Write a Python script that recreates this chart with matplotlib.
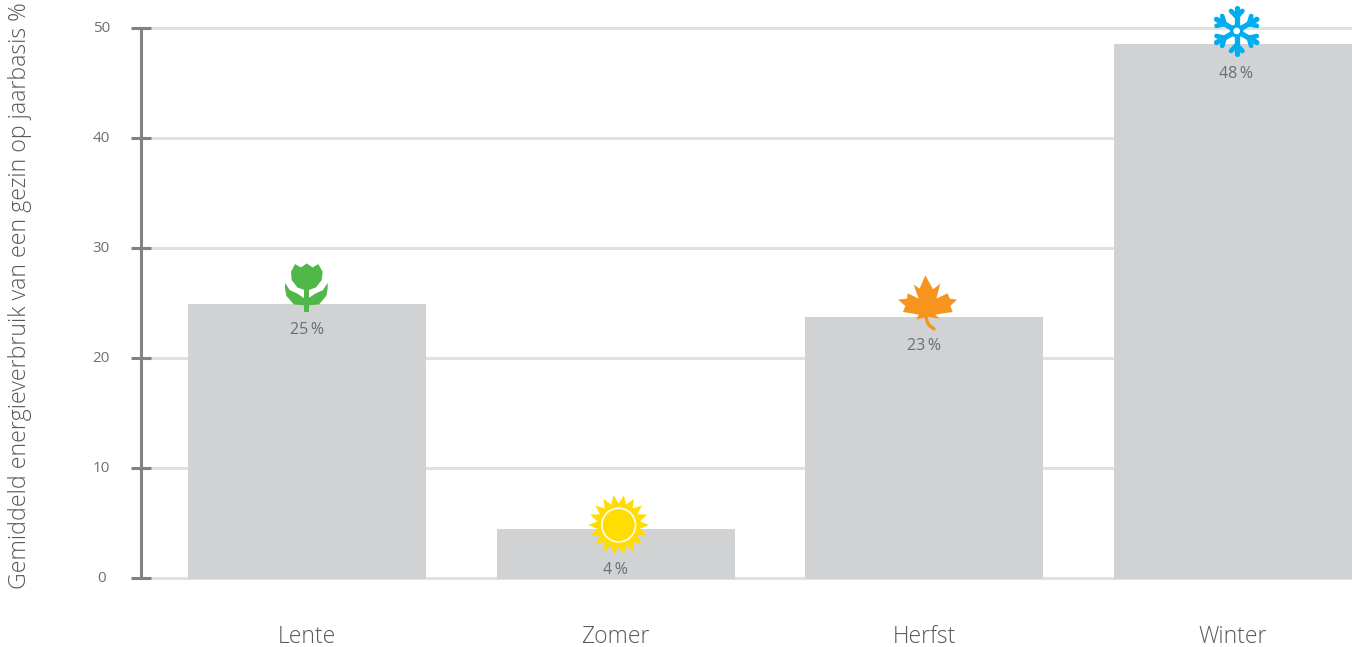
import numpy as np
import matplotlib
matplotlib.use('Agg')
import matplotlib.pyplot as plt
from matplotlib.patches import Polygon, Circle
from matplotlib.transforms import Affine2D

plt.rcParams['font.family'] = ['Open Sans', 'DejaVu Sans']

# Data
seasons = ['Lente', 'Zomer', 'Herfst', 'Winter']
usage = [24.9, 4.45, 23.7, 48.55]
usage_labels = ['25\u2009%', '4\u2009%', '23\u2009%', '48\u2009%']
y_ticks = [0, 10, 20, 30, 40, 50]
y_title = 'Gemiddeld energieverbruik van een gezin op jaarbasis %'

# label offset below the bar top, in pixels
label_drop = [26, 41, 29, 30]
label_shift = [0, 0, 0, 3]

BAR = '#D1D2D4'
GRID = '#E1E1E2'
AXIS = '#808285'
TEXT = '#6D6E71'
DARK = '#58595B'

W, H = 1352, 647
fig = plt.figure(figsize=(W / 100, H / 100), dpi=100)
ax = fig.add_axes([141 / W, (H - 589) / H, (W - 141) / W, 589 / H])

x = np.arange(len(seasons))
# bars reach the lower edge of the zero line
base = -0.13
ax.bar(x, np.array(usage) - base, bottom=base, width=238 / 308.67, color=BAR, zorder=2)

ax.set_xlim(-166 / 308.67, 3 + 119 / 308.67)
ax.set_ylim(-1, 589 / 11 - 1)

ax.set_yticks(y_ticks)
ax.set_xticks(x)
ax.set_xticklabels(seasons, fontsize=16.5, color=DARK, fontweight='light')
ax.tick_params(axis='x', length=0, pad=26)
ax.tick_params(axis='y', direction='inout', length=15.1, width=2.2, color=AXIS,
               labelsize=11, labelcolor=TEXT, pad=21)
for lab in ax.get_yticklabels():
    lab.set_ha('center')
    lab.set_transform(lab.get_transform() + Affine2D().translate(0, 1))
ax.set_axisbelow(True)
ax.yaxis.grid(True, color=GRID, linewidth=2.2)

for s in ['top', 'right', 'bottom']:
    ax.spines[s].set_visible(False)
ax.spines['left'].set_bounds(0, 50)
ax.spines['left'].set_color(AXIS)
ax.spines['left'].set_linewidth(2.2)

fig.text(20 / W, 1 - 296 / H, y_title, rotation=90, fontsize=16.7, color=DARK,
         fontweight='light', ha='center', va='center')

for i, v in enumerate(usage):
    ax.annotate(usage_labels[i], (i, v), xytext=(label_shift[i], -label_drop[i]),
                textcoords='offset pixels', ha='center', va='center',
                fontsize=11.5, color=TEXT, zorder=6)


# Icons: outlines are in zoomed pixels (3x) around an anchor on top of the bar
def icon_transform(i, v, ox=0, oy=0):
    px, py = ax.transData.transform((i, v))
    return Affine2D().scale(1 / 3, -1 / 3).translate(px + ox, py - oy)


def add_poly(pts, tr, color):
    ax.add_patch(Polygon(pts, closed=True, facecolor=color, edgecolor='none',
                         transform=tr, clip_on=False, zorder=5))


# Tulip
GREEN = '#50B848'
tr = icon_transform(0, usage[0])
head = [(-36, -120), (-18, -110), (-1, -122), (17, -110), (34, -120), (47, -97),
        (44, -72), (27, -50), (-1, -40), (-29, -50), (-46, -72), (-48, -97)]
leaf_l = [(-66, -64), (-52, -42), (-28, -31), (-6, -16), (-6, 4), (-40, 1), (-62, -25), (-66, -47)]
leaf_r = [(62, -64), (48, -42), (24, -31), (2, -16), (2, 4), (36, 1), (58, -25), (62, -47)]
add_poly(head, tr, GREEN)
add_poly(leaf_l, tr, GREEN)
add_poly(leaf_r, tr, GREEN)
add_poly([(-8, -50), (7, -50), (7, 24), (-8, 24)], tr, GREEN)

# Sun
YELLOW = '#FFDD00'
tr = icon_transform(1, usage[1], 3, -4)
n_rays = 18
ang = np.arange(n_rays * 2) * np.pi / n_rays + np.pi / n_rays
rad = np.where(np.arange(n_rays * 2) % 2 == 0, 91, 65)
add_poly(np.column_stack([rad * np.sin(ang), rad * np.cos(ang)]), tr, YELLOW)
ax.add_patch(Circle((0, 0), 53, facecolor='white', edgecolor='none', transform=tr, clip_on=False, zorder=5))
ax.add_patch(Circle((0, 0), 48, facecolor=YELLOW, edgecolor='none', transform=tr, clip_on=False, zorder=5))

# Maple leaf
ORANGE = '#F7941E'
tr = icon_transform(2, usage[2])
leaf = [(3, -126), (26, -84), (48, -101), (36, -56), (70, -72), (76, -56), (98, -53),
        (78, -34), (85, -16), (33, -8), (46, 4), (11, -1), (8, -1), (-24, 7), (-17, -8),
        (-64, -16), (-57, -34), (-79, -53), (-52, -56), (-50, -72), (-17, -56), (-32, -98), (-14, -86)]
add_poly(leaf, tr, ORANGE)
ax.plot([5, 8, 14, 29], [-6, 12, 24, 35], color=ORANGE, lw=2.4, transform=tr,
        clip_on=False, zorder=5, solid_capstyle='round')

# Snowflake
BLUE = '#00AEEF'
tr = icon_transform(3, usage[3], 3.7, -13)
for a in np.deg2rad(np.arange(0, 360, 60)):
    rot = np.array([[np.cos(a), -np.sin(a)], [np.sin(a), np.cos(a)]])
    arm = rot @ np.array([[0, 0], [0, -70]]).T
    branch = rot @ np.array([[-17, -60], [0, -42], [17, -60]]).T
    ax.plot(arm[0], arm[1], color=BLUE, lw=3.8, transform=tr, clip_on=False, zorder=5,
            solid_capstyle='round')
    ax.plot(branch[0], branch[1], color=BLUE, lw=3.4, transform=tr, clip_on=False, zorder=5,
            solid_capstyle='round', solid_joinstyle='round')
ax.add_patch(Circle((0, 0), 20, facecolor=BLUE, edgecolor='none', transform=tr, clip_on=False, zorder=5))
ax.add_patch(Circle((0, 0), 10, facecolor='white', edgecolor='none', transform=tr, clip_on=False, zorder=6))

fig.savefig('out.png', dpi=100)
